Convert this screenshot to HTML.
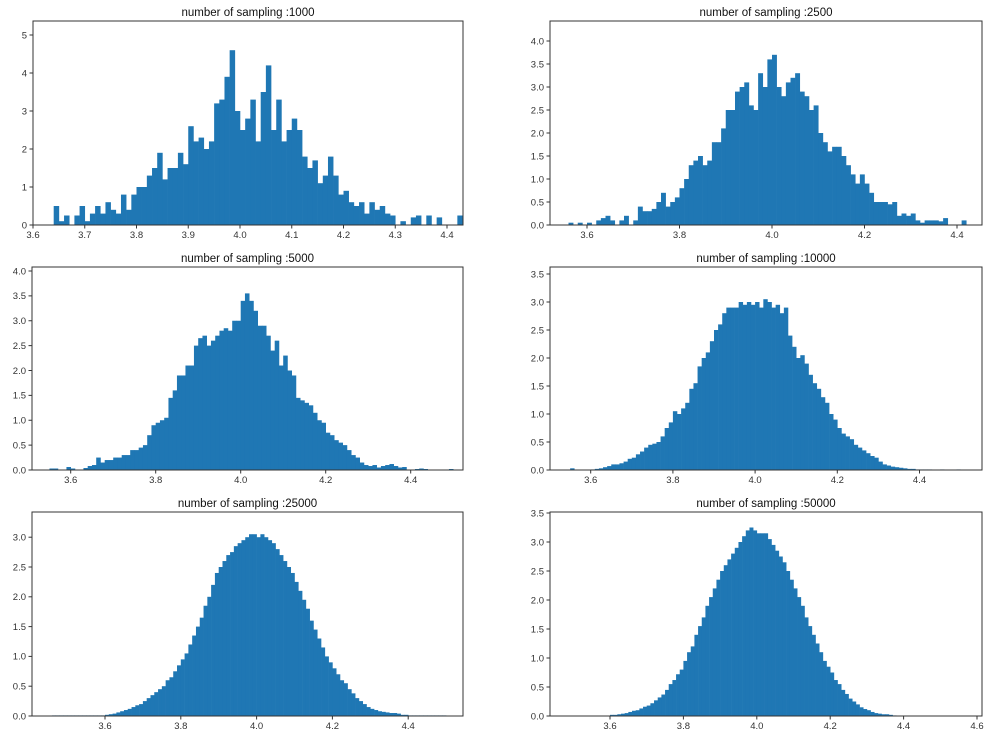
<!DOCTYPE html>
<html><head><meta charset="utf-8"><style>
html,body{margin:0;padding:0;background:#fff;}
svg{display:block;font-family:"Liberation Sans",sans-serif;}
</style></head><body>
<svg id="fig" width="996" height="739" viewBox="0 0 996 739"></svg>
<script>
// ---- data (bin width 0.01 for every panel, starting at binStart) ----
const titles = ["number of sampling :1000","number of sampling :2500","number of sampling :5000","number of sampling :10000","number of sampling :25000","number of sampling :50000"];
const binStart = [3.64, 3.56, 3.55, 3.55, 3.46, 3.52];
const binWidth = 0.01;
const heights1000 = [0.5,0.1,0.25,0,0.25,0.5,0.1,0.3,0.5,0.3,0.6,0.4,0.3,0.8,0.4,0.8,1.0,1.0,1.3,1.5,1.9,1.2,1.5,1.5,1.9,1.6,2.6,2.2,2.3,2.0,2.2,3.2,3.3,3.9,4.6,3.0,2.5,2.8,3.3,2.2,3.5,4.2,2.5,3.3,2.2,2.5,2.8,2.5,1.8,1.5,1.7,1.1,1.3,1.8,1.3,0.8,0.9,0.6,0.5,0.6,0.3,0.6,0.4,0.5,0.3,0.25,0,0.1,0,0.2,0.25,0,0.25,0,0.2,0,0,0,0.25];
const heights2500 = [0.05,0,0.05,0,0.05,0,0.1,0.15,0.2,0.1,0,0.1,0.2,0,0.1,0.4,0.3,0.3,0.35,0.5,0.7,0.4,0.5,0.6,0.8,1.0,1.3,1.4,1.5,1.3,1.4,1.8,1.8,2.1,2.5,2.5,2.9,3.0,3.1,2.6,2.5,3.3,3.0,3.6,3.7,3.0,2.8,3.1,3.2,3.3,2.9,2.8,2.5,2.6,2.0,1.8,1.6,1.7,1.7,1.5,1.3,1.1,0.9,1.1,0.9,0.7,0.5,0.5,0.5,0.45,0.5,0.2,0.25,0.2,0.25,0.1,0.05,0.1,0.1,0.1,0.08,0.15,0,0,0,0.1];
const heights5000 = [0.03,0.03,0,0,0.06,0.03,0,0,0.04,0.08,0.1,0.25,0.15,0.2,0.2,0.25,0.25,0.3,0.3,0.4,0.4,0.45,0.5,0.7,0.9,0.95,1.0,1.05,1.45,1.6,1.9,1.9,2.1,2.1,2.5,2.65,2.7,2.5,2.6,2.7,2.8,2.85,2.8,3.0,3.0,3.4,3.55,3.4,3.2,2.9,2.9,2.7,2.4,2.6,2.1,2.3,2.0,1.9,1.45,1.4,1.35,1.3,1.15,1.0,0.95,0.75,0.7,0.6,0.55,0.5,0.4,0.3,0.25,0.15,0.1,0.08,0.1,0.05,0.08,0.1,0.12,0.08,0.05,0.06,0,0,0.02,0.03,0.02,0,0,0,0,0,0.02];
const heights10000 = [0.03,0,0,0,0,0.01,0.02,0.03,0.05,0.07,0.1,0.1,0.12,0.15,0.2,0.22,0.28,0.33,0.4,0.45,0.47,0.5,0.6,0.75,0.85,1.05,1.0,1.1,1.2,1.45,1.55,1.85,2.0,2.1,2.3,2.5,2.6,2.8,2.9,2.9,2.9,3.0,2.95,3.0,2.95,3.0,2.9,3.05,3.0,2.9,2.95,2.8,2.9,2.4,2.2,2.0,2.05,1.9,1.7,1.55,1.45,1.3,1.2,1.0,0.9,0.75,0.65,0.6,0.55,0.45,0.4,0.35,0.3,0.25,0.22,0.15,0.1,0.08,0.06,0.05,0.04,0.03,0.02,0.02,0.01,0.01,0.01,0.01,0,0,0.01,0,0,0,0.01];
const heights25000 = [0.01,0.01,0.01,0.01,0.01,0.01,0.01,0.01,0.01,0.01,0.01,0.01,0.01,0.01,0.02,0.03,0.04,0.06,0.08,0.1,0.12,0.15,0.18,0.2,0.25,0.3,0.35,0.4,0.45,0.5,0.6,0.65,0.75,0.85,0.95,1.05,1.2,1.35,1.5,1.65,1.85,2.0,2.2,2.4,2.5,2.6,2.7,2.75,2.85,2.9,2.95,3.0,3.05,3.05,3.0,3.05,3.0,2.95,2.9,2.8,2.7,2.6,2.5,2.4,2.25,2.1,1.95,1.8,1.6,1.45,1.3,1.15,1.0,0.9,0.8,0.7,0.6,0.55,0.45,0.38,0.3,0.25,0.2,0.15,0.12,0.1,0.08,0.07,0.06,0.05,0.05,0.04,0.02,0.02,0.01,0.01,0.01,0.01,0.01,0.01,0.01,0.01,0.01,0.01];
const heights50000 = [0.005,0.005,0.005,0.005,0.005,0.005,0.005,0.005,0.02,0.02,0.03,0.04,0.05,0.07,0.09,0.1,0.13,0.16,0.18,0.22,0.27,0.32,0.37,0.45,0.55,0.62,0.72,0.8,0.95,1.1,1.2,1.4,1.55,1.7,1.9,2.05,2.2,2.35,2.5,2.6,2.7,2.8,2.9,3.0,3.1,3.2,3.25,3.2,3.15,3.15,3.15,3.05,2.95,2.85,2.75,2.65,2.5,2.35,2.2,2.05,1.9,1.7,1.55,1.4,1.25,1.1,0.95,0.85,0.75,0.62,0.55,0.45,0.38,0.3,0.25,0.2,0.15,0.12,0.1,0.07,0.05,0.04,0.03,0.03,0.02,0.01,0.005,0.005,0.005,0.005,0.005,0.005,0.005,0.005,0.005,0.005,0.005];
const seriesHeights = [heights1000, heights2500, heights5000, heights10000, heights25000, heights50000];
const xTicks1 = [3.6,3.7,3.8,3.9,4.0,4.1,4.2,4.3,4.4];
const xTicks2 = [3.6,3.8,4.0,4.2,4.4];
const xTicks6 = [3.6,3.8,4.0,4.2,4.4,4.6];
const xTicksAll = [xTicks1, xTicks2, xTicks2, xTicks2, xTicks2, xTicks6];
const yTicks1 = [0,1,2,3,4,5];
const yTicks40 = [0,0.5,1.0,1.5,2.0,2.5,3.0,3.5,4.0];
const yTicks35 = [0,0.5,1.0,1.5,2.0,2.5,3.0,3.5];
const yTicks30 = [0,0.5,1.0,1.5,2.0,2.5,3.0];
const yTicksAll = [yTicks1, yTicks40, yTicks40, yTicks35, yTicks30, yTicks35];
const yDecimals = [0,1,1,1,1,1];

// ---- layout (pixel geometry, not data) ----
const boxes = [
  {l:33,r:463,t:21,b:225, xa:3.6,xpa:33, xk:517.5, yk:38},
  {l:550,r:982,t:21,b:225, xa:3.6,xpa:587, xk:462.5, yk:46},
  {l:32,r:463,t:267,b:470, xa:3.6,xpa:70.7, xk:425, yk:49.75},
  {l:550,r:982,t:267,b:470, xa:3.6,xpa:590.7, xk:411, yk:56},
  {l:32,r:463,t:512,b:716, xa:3.6,xpa:105, xk:379, yk:59.6},
  {l:550,r:982,t:512,b:716, xa:3.6,xpa:610, xk:367, yk:58}
];
const NS = "http://www.w3.org/2000/svg";
const fig = document.getElementById('fig');
function mk(tag, attrs, parent){const e=document.createElementNS(NS,tag);for(const k in attrs)e.setAttribute(k,attrs[k]);parent.appendChild(e);return e;}

boxes.forEach((bx, p) => {
  const xs = v => bx.xpa + (v - bx.xa) * bx.xk;
  const ys = v => bx.b - v * bx.yk;
  const g = mk('g', {}, fig);
  
  
  const bars = mk('g', {fill:'#1f77b4'}, g);
  
  
  seriesHeights[p].forEach((h, i) => {
    if (h <= 0) return;
    const x0 = xs(binStart[p] + i*binWidth), x1 = xs(binStart[p] + (i+1)*binWidth);
    const r = mk('rect', {x:x0, y:ys(h), width:Math.max(x1-x0,0.6)+0.3, height:bx.b-ys(h)}, bars);
    
    
  });
  const frame = mk('rect', {x:bx.l, y:bx.t, width:bx.r-bx.l, height:bx.b-bx.t, fill:'none', stroke:'#333', 'stroke-width':1}, g);
  
  
  xTicksAll[p].forEach(v => {
    const x = xs(v);
    mk('line', {x1:x, x2:x, y1:bx.b, y2:bx.b+3.5, stroke:'#333'}, g);
    const t = mk('text', {x:x, y:bx.b+13, 'font-size':9.5, 'text-anchor':'middle', fill:'#333'}, g);
    
    
    t.textContent = v.toFixed(1);
  });
  yTicksAll[p].forEach(v => {
    const y = ys(v);
    mk('line', {x1:bx.l-3.5, x2:bx.l, y1:y, y2:y, stroke:'#333'}, g);
    const t = mk('text', {x:bx.l-6, y:y+3.3, 'font-size':9.5, 'text-anchor':'end', fill:'#333'}, g);
    
    
    t.textContent = v.toFixed(yDecimals[p]);
  });
  const tt = mk('text', {x:(bx.l+bx.r)/2, y:bx.t-5, 'font-size':11.5, 'text-anchor':'middle', fill:'#111'}, g);
  
  
  tt.textContent = titles[p];
});
</script>
</body></html>
